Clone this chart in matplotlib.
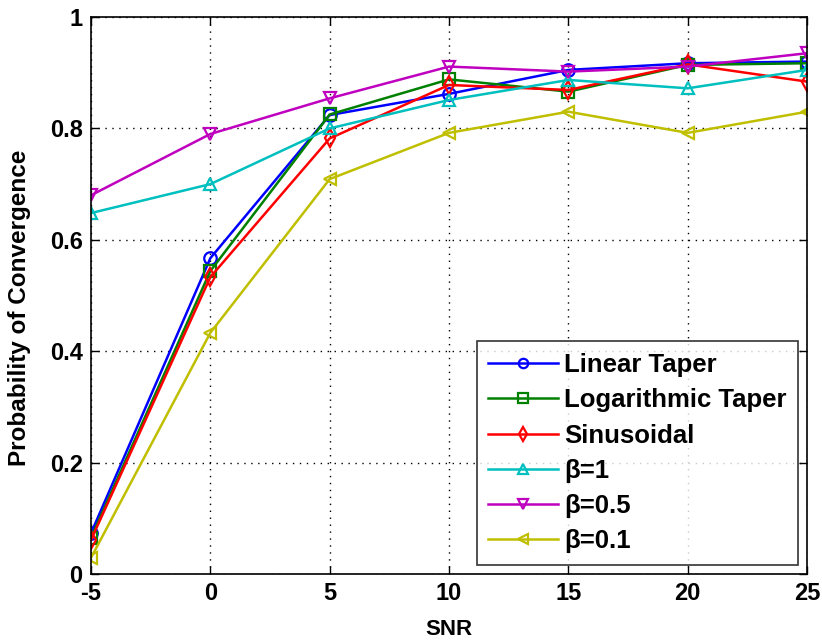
import matplotlib
matplotlib.use("Agg")
import matplotlib.pyplot as plt

plt.rcParams["font.family"] = ["Liberation Sans", "DejaVu Sans"]
plt.rcParams["font.weight"] = "bold"
plt.rcParams["axes.unicode_minus"] = False

snr = [-5, 0, 5, 10, 15, 20, 25]
linear_taper = [0.073, 0.567, 0.824, 0.862, 0.905, 0.917, 0.920]
log_taper = [0.065, 0.544, 0.825, 0.888, 0.866, 0.914, 0.917]
sinusoidal = [0.061, 0.533, 0.782, 0.878, 0.869, 0.915, 0.884]
beta_1 = [0.648, 0.700, 0.800, 0.851, 0.887, 0.872, 0.905]
beta_05 = [0.680, 0.790, 0.854, 0.911, 0.902, 0.911, 0.935]
beta_01 = [0.029, 0.433, 0.709, 0.792, 0.830, 0.792, 0.830]

series = [
    ("Linear Taper", linear_taper, (0, 0, 1), "o"),
    ("Logarithmic Taper", log_taper, (0, 0.5, 0), "s"),
    ("Sinusoidal", sinusoidal, (1, 0, 0), "d"),
    ("\u03b2=1", beta_1, (0, 0.75, 0.75), "^"),
    ("\u03b2=0.5", beta_05, (0.75, 0, 0.75), "v"),
    ("\u03b2=0.1", beta_01, (0.75, 0.75, 0), "<"),
]

fig = plt.figure(figsize=(8.22, 6.42), dpi=100)
ax = fig.add_axes([0.1107, 0.1059, 0.8711, 0.8676])

for label, vals, col, mk in series:
    ax.plot(snr, vals, color=col, marker=mk, markersize=9, markerfacecolor="none",
            markeredgecolor=col, markeredgewidth=1.6, lw=1.8, label=label)

ax.set_xlim(-5, 25)
ax.set_ylim(0, 1)
ax.set_xticks(snr)
ax.set_xticklabels([str(v) for v in snr])
ax.set_yticks([0, 0.2, 0.4, 0.6, 0.8, 1])
ax.set_yticklabels(["0", "0.2", "0.4", "0.6", "0.8", "1"])
ax.grid(True, color="black", linestyle=(0, (1, 4)), linewidth=1.0)
ax.tick_params(direction="in", top=True, right=True, labelsize=17, length=6, width=1, pad=6)
for lbl in ax.get_xticklabels() + ax.get_yticklabels():
    lbl.set_fontweight("bold")
for s in ax.spines.values():
    s.set_linewidth(1.2)

ax.set_xlabel("SNR", fontsize=16, fontweight="bold", labelpad=10)
ax.set_ylabel("Probability of Convergence", fontsize=17.5, fontweight="bold")
ax.yaxis.set_label_coords(-0.084, 0.478)

leg = ax.legend(loc="lower right", fontsize=18.5, frameon=True, fancybox=False,
                edgecolor="black", borderaxespad=0.35, handlelength=2.7,
                labelspacing=0.44, borderpad=0.45, handletextpad=0.25, markerscale=0.75)
leg.get_frame().set_linewidth(1.2)
for t in leg.get_texts():
    t.set_fontweight("bold")

fig.savefig("out.png", dpi=100)
